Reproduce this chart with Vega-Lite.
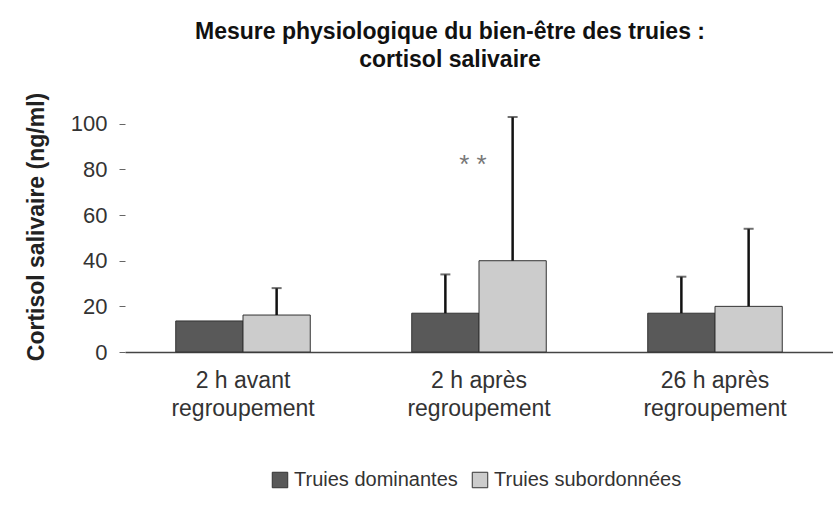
{
  "$schema": "https://vega.github.io/schema/vega-lite/v6.json",
  "autosize": "none",
  "padding": {"left": 125, "top": 101, "right": 0, "bottom": 158},
  "width": 708,
  "height": 251,
  "background": "white",
  "title": {
    "text": ["Mesure physiologique du bien-être des truies :", "cortisol salivaire"],
    "font": "Liberation Sans",
    "fontSize": 23,
    "fontWeight": "bold",
    "color": "#111111",
    "anchor": "middle",
    "dx": -29,
    "offset": 20,
    "lineHeight": 28
  },
  "config": {
    "view": {"stroke": null},
    "font": "Liberation Sans"
  },
  "datasets": {
    "bars": [
      {"moment": "2 h avant regroupement", "groupe": "Truies dominantes", "valeur": 13.6, "haut": 13.6},
      {"moment": "2 h avant regroupement", "groupe": "Truies subordonnées", "valeur": 16.2, "haut": 28},
      {"moment": "2 h après regroupement", "groupe": "Truies dominantes", "valeur": 17, "haut": 34},
      {"moment": "2 h après regroupement", "groupe": "Truies subordonnées", "valeur": 40, "haut": 103},
      {"moment": "26 h après regroupement", "groupe": "Truies dominantes", "valeur": 17, "haut": 33},
      {"moment": "26 h après regroupement", "groupe": "Truies subordonnées", "valeur": 20, "haut": 54}
    ],
    "notes": [
      {"moment": "2 h après regroupement", "y": 82, "label": "* *"}
    ]
  },
  "layer": [
    {
      "data": {"name": "bars"},
      "mark": {"type": "bar", "stroke": "#333333", "strokeWidth": 1},
      "encoding": {
        "x": {
          "field": "moment", "type": "nominal", "sort": null,
          "scale": {"paddingInner": 0.43, "paddingOuter": 0.215},
          "axis": {
            "title": null, "labelAngle": 0, "domain": true, "domainColor": "#444444", "domainWidth": 1.5,
            "ticks": false, "labelFontSize": 23, "labelColor": "#333333", "labelPadding": 17,
            "labelExpr": "datum.label == '2 h avant regroupement' ? ['2 h avant', 'regroupement'] : datum.label == '2 h après regroupement' ? ['2 h après', 'regroupement'] : ['26 h après', 'regroupement']",
            "labelLineHeight": 28
          }
        },
        "xOffset": {"field": "groupe", "type": "nominal", "sort": null},
        "y": {
          "field": "valeur", "type": "quantitative",
          "scale": {"domain": [0, 110]},
          "axis": {
            "title": "Cortisol salivaire (ng/ml)", "titleFontSize": 23, "titleFontWeight": "bold",
            "titleColor": "#222222", "titlePadding": 22,
            "values": [0, 20, 40, 60, 80, 100], "grid": false, "domain": false,
            "ticks": true, "tickSize": 6, "tickColor": "#666666",
            "labelFontSize": 22, "labelColor": "#333333", "labelPadding": 12
          }
        },
        "color": {
          "field": "groupe", "type": "nominal", "sort": null,
          "scale": {"range": ["#595959", "#cccccc"]},
          "legend": {
            "title": null, "orient": "none", "direction": "horizontal",
            "legendX": 145, "legendY": 369,
            "symbolType": "square", "symbolSize": 240, "symbolStrokeColor": "#333333", "symbolStrokeWidth": 1,
            "labelFontSize": 20, "labelColor": "#333333", "columnPadding": 12, "labelLimit": 400
          }
        }
      }
    },
    {
      "data": {"name": "bars"},
      "mark": {"type": "rule", "color": "#111111", "strokeWidth": 2.5},
      "encoding": {
        "x": {"field": "moment", "type": "nominal", "sort": null},
        "xOffset": {"field": "groupe", "type": "nominal", "sort": null},
        "y": {"field": "valeur", "type": "quantitative"},
        "y2": {"field": "haut"}
      }
    },
    {
      "data": {"name": "bars"},
      "transform": [{"filter": "datum.haut > datum.valeur"}],
      "mark": {"type": "tick", "color": "#333333", "size": 10, "thickness": 2},
      "encoding": {
        "x": {"field": "moment", "type": "nominal", "sort": null},
        "xOffset": {"field": "groupe", "type": "nominal", "sort": null},
        "y": {"field": "haut", "type": "quantitative"}
      }
    },
    {
      "data": {"name": "notes"},
      "mark": {"type": "text", "fontSize": 26, "color": "#777777", "dx": -6},
      "encoding": {
        "x": {"field": "moment", "type": "nominal", "sort": null},
        "y": {"field": "y", "type": "quantitative"},
        "text": {"field": "label"}
      }
    }
  ]
}
